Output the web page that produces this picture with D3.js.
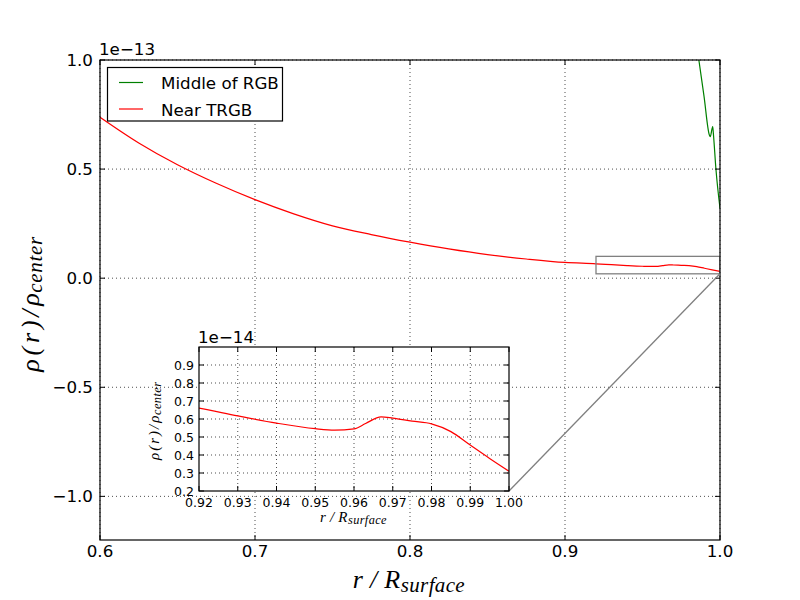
<!DOCTYPE html>
<html>
<head>
<meta charset="utf-8">
<script src="https://cdn.jsdelivr.net/npm/d3@7/dist/d3.min.js"></script>
<style>
  html, body { margin: 0; padding: 0; background: #fff; }
  svg { display: block; }
  .tick-label { font-family: "DejaVu Sans", sans-serif; fill: #000; }
  .math { font-family: "Liberation Serif", "DejaVu Serif", serif; font-style: italic; fill: #000; }
</style>
</head>
<body>
<svg id="chart" width="800" height="600"></svg>
<script>
// ---------------- data (density in units of 1e-13) ----------------
const rNear = [0.60, 0.625, 0.65, 0.675, 0.70, 0.725, 0.75, 0.775, 0.80, 0.825, 0.85, 0.875, 0.90,
               0.92, 0.93, 0.94, 0.95, 0.955, 0.96, 0.963, 0.967, 0.97, 0.975, 0.98, 0.985, 0.99, 0.995, 1.00];
const rhoNear = [0.738, 0.62, 0.52, 0.435, 0.36, 0.295, 0.24, 0.20, 0.165, 0.134, 0.108, 0.088, 0.072,
                 0.066, 0.0617, 0.0577, 0.0546, 0.0538, 0.0545, 0.0575, 0.0612, 0.0605, 0.0588, 0.0573, 0.053, 0.0455, 0.0381, 0.031];
const rMid = [0.984, 0.9865, 0.9897, 0.9931, 0.9937, 0.9953, 0.9957, 0.9974, 1.0];
const rhoMid = [1.12, 0.993, 0.833, 0.657, 0.649, 0.695, 0.665, 0.498, 0.32];

const seriesNames = ["Middle of RGB", "Near TRGB"];
const seriesColors = ["#008000", "#ff0000"];

const xTicksMain = [0.6, 0.7, 0.8, 0.9, 1.0];
const yTicksMain = [-1.0, -0.5, 0.0, 0.5, 1.0];
const xTicksInset = [0.92, 0.93, 0.94, 0.95, 0.96, 0.97, 0.98, 0.99, 1.00];
const yTicksInset = [0.2, 0.3, 0.4, 0.5, 0.6, 0.7, 0.8, 0.9];
const insetX = [0.92, 1.00];
const insetY = [0.2, 1.0]; // units of 1e-14

// ---------------- drawing ----------------
const svg = d3.select("#chart");
svg.append("rect").attr("width", 800).attr("height", 600).attr("fill", "#fff");

const M = {l: 100, r: 720, t: 60, b: 540};
const x = d3.scaleLinear().domain([0.6, 1.0]).range([M.l, M.r]);
const y = d3.scaleLinear().domain([-1.2, 1.0]).range([M.b, M.t]);

const defs = svg.append("defs");
defs.append("clipPath").attr("id", "clipMain").append("rect")
  .attr("x", M.l).attr("y", M.t).attr("width", M.r - M.l).attr("height", M.b - M.t);

const FS = 16.7, FSi = 12.5, TL = 5;

function grid(g, xs, ys, xt, yt, box) {
  g.selectAll(null).data(xt).enter().append("line")
    .attr("x1", d => xs(d)).attr("x2", d => xs(d)).attr("y1", box.t).attr("y2", box.b)
    .attr("stroke", "#000").attr("stroke-width", 0.7).attr("stroke-dasharray", "1,3");
  g.selectAll(null).data(yt).enter().append("line")
    .attr("y1", d => ys(d)).attr("y2", d => ys(d)).attr("x1", box.l).attr("x2", box.r)
    .attr("stroke", "#000").attr("stroke-width", 0.7).attr("stroke-dasharray", "1,3");
}
function ticks(g, xs, ys, xt, yt, box) {
  xt.forEach(d => {
    g.append("line").attr("x1", xs(d)).attr("x2", xs(d)).attr("y1", box.b).attr("y2", box.b - TL).attr("stroke", "#000");
    g.append("line").attr("x1", xs(d)).attr("x2", xs(d)).attr("y1", box.t).attr("y2", box.t + TL).attr("stroke", "#000");
  });
  yt.forEach(d => {
    g.append("line").attr("y1", ys(d)).attr("y2", ys(d)).attr("x1", box.l).attr("x2", box.l + TL).attr("stroke", "#000");
    g.append("line").attr("y1", ys(d)).attr("y2", ys(d)).attr("x1", box.r).attr("x2", box.r - TL).attr("stroke", "#000");
  });
}

const main = svg.append("g");
const mainBox = {l: M.l, r: M.r, t: M.t, b: M.b};
grid(main, x, y, xTicksMain, yTicksMain, mainBox);

const lineMain = d3.line().x(d => x(d[0])).y(d => y(d[1])).curve(d3.curveMonotoneX);
const plot = main.append("g").attr("clip-path", "url(#clipMain)");
plot.append("path").datum(d3.zip(rMid, rhoMid)).attr("d", lineMain)
  .attr("fill", "none").attr("stroke", seriesColors[0]).attr("stroke-width", 1.2);
plot.append("path").datum(d3.zip(rNear, rhoNear)).attr("d", lineMain)
  .attr("fill", "none").attr("stroke", seriesColors[1]).attr("stroke-width", 1.2);

// inset indicator rectangle (inset units 1e-14 -> 0.1 of 1e-13)
plot.append("rect")
  .attr("x", x(insetX[0])).attr("y", y(insetY[1] / 10))
  .attr("width", x(insetX[1]) - x(insetX[0])).attr("height", y(insetY[0] / 10) - y(insetY[1] / 10))
  .attr("fill", "none").attr("stroke", "#808080").attr("stroke-width", 1.3);

ticks(main, x, y, xTicksMain, yTicksMain, mainBox);
main.append("rect").attr("x", M.l).attr("y", M.t).attr("width", M.r - M.l).attr("height", M.b - M.t)
  .attr("fill", "none").attr("stroke", "#000").attr("stroke-width", 1.2);

// main tick labels
main.selectAll(null).data(xTicksMain).enter().append("text").attr("class", "tick-label")
  .attr("x", d => x(d)).attr("y", 557).attr("text-anchor", "middle").attr("font-size", FS)
  .text(d => d3.format(".1f")(d));
main.selectAll(null).data(yTicksMain).enter().append("text").attr("class", "tick-label")
  .attr("x", 93).attr("y", d => y(d) + 6).attr("text-anchor", "end").attr("font-size", FS)
  .text(d => d3.format(".1f")(d).replace("-", "\u2212"));
main.append("text").attr("class", "tick-label").attr("x", 99).attr("y", 55).attr("font-size", FS)
  .text("1e\u221213");

// axis labels: main part + subscript, each spaced to the reference widths
function mathLabel(parent, o) {
  const g = parent.append("g");
  if (o.rotate) g.attr("transform", "rotate(-90)");
  const s = o.rotate ? -1 : 1;
  g.append("text").attr("class", "math").attr("font-size", o.fs)
    .attr("x", s * o.start).attr("y", o.base)
    .attr("textLength", o.w1).attr("lengthAdjust", "spacing").text(o.main);
  g.append("text").attr("class", "math").attr("font-size", o.fs2)
    .attr("x", s * o.start + o.w1 + 0.5).attr("y", o.base + o.dy)
    .attr("textLength", o.w2).attr("lengthAdjust", "spacing").text(o.sub);
}
mathLabel(svg, {start: 352.7, base: 588.3, fs: 26, fs2: 21, w1: 47.5, w2: 64, dy: 3.7, main: "r/R", sub: "surface"});
mathLabel(svg, {start: 371.7, base: 38.5, fs: 26, fs2: 21, w1: 78.5, w2: 56, dy: 3.3, main: "\u03c1(r)/\u03c1", sub: "center", rotate: true});

// legend
const leg = svg.append("g");
leg.append("rect").attr("x", 107.5).attr("y", 67.5).attr("width", 175).attr("height", 53.5)
  .attr("fill", "#fff").attr("stroke", "#000").attr("stroke-width", 1.2);
seriesNames.forEach((n, i) => {
  const yy = 82.5 + i * 26.5;
  leg.append("line").attr("x1", 119).attr("x2", 143).attr("y1", yy).attr("y2", yy)
    .attr("stroke", seriesColors[i]).attr("stroke-width", 1.2);
  leg.append("text").attr("class", "tick-label").attr("x", 161).attr("y", yy + 6.5)
    .attr("font-size", FS).text(n);
});

// ---------------- inset ----------------
const I = {l: 199, r: 509, t: 347, b: 491};
const xi = d3.scaleLinear().domain(insetX).range([I.l, I.r]);
const yi = d3.scaleLinear().domain(insetY).range([I.b, I.t]);

// connector line from indicator corner to inset corner
svg.append("line")
  .attr("x1", x(insetX[1])).attr("y1", y(insetY[0] / 10))
  .attr("x2", I.r).attr("y2", I.b)
  .attr("stroke", "#808080").attr("stroke-width", 1.3);

defs.append("clipPath").attr("id", "clipInset").append("rect")
  .attr("x", I.l).attr("y", I.t).attr("width", I.r - I.l).attr("height", I.b - I.t);

const ins = svg.append("g");
ins.append("rect").attr("x", I.l).attr("y", I.t).attr("width", I.r - I.l).attr("height", I.b - I.t)
  .attr("fill", "#fff");
grid(ins, xi, yi, xTicksInset.slice(1, -1), yTicksInset.slice(1), I);
const lineIns = d3.line().x(d => xi(d[0])).y(d => yi(d[1] * 10)).curve(d3.curveMonotoneX);
ins.append("g").attr("clip-path", "url(#clipInset)").append("path")
  .datum(d3.zip(rNear, rhoNear).filter(d => d[0] >= 0.9))
  .attr("d", lineIns).attr("fill", "none").attr("stroke", seriesColors[1]).attr("stroke-width", 1.2);
ticks(ins, xi, yi, xTicksInset, yTicksInset, I);
ins.append("rect").attr("x", I.l).attr("y", I.t).attr("width", I.r - I.l).attr("height", I.b - I.t)
  .attr("fill", "none").attr("stroke", "#000").attr("stroke-width", 1.2);

ins.selectAll(null).data(xTicksInset).enter().append("text").attr("class", "tick-label")
  .attr("x", d => xi(d)).attr("y", 506.5).attr("text-anchor", "middle").attr("font-size", FSi)
  .text(d => d3.format(".2f")(d));
ins.selectAll(null).data(yTicksInset).enter().append("text").attr("class", "tick-label")
  .attr("x", 194).attr("y", d => yi(d) + 4.5).attr("text-anchor", "end").attr("font-size", FSi)
  .text(d => d3.format(".1f")(d));
ins.append("text").attr("class", "tick-label").attr("x", 198).attr("y", 343).attr("font-size", FS)
  .text("1e\u221214");

mathLabel(svg, {start: 320, base: 521.5, fs: 15, fs2: 12.3, w1: 27.5, w2: 38.5, dy: 2.2, main: "r/R", sub: "surface"});
mathLabel(svg, {start: 460, base: 158.5, fs: 15, fs2: 12.3, w1: 44.5, w2: 33, dy: 2, main: "\u03c1(r)/\u03c1", sub: "center", rotate: true});
</script>
</body>
</html>
